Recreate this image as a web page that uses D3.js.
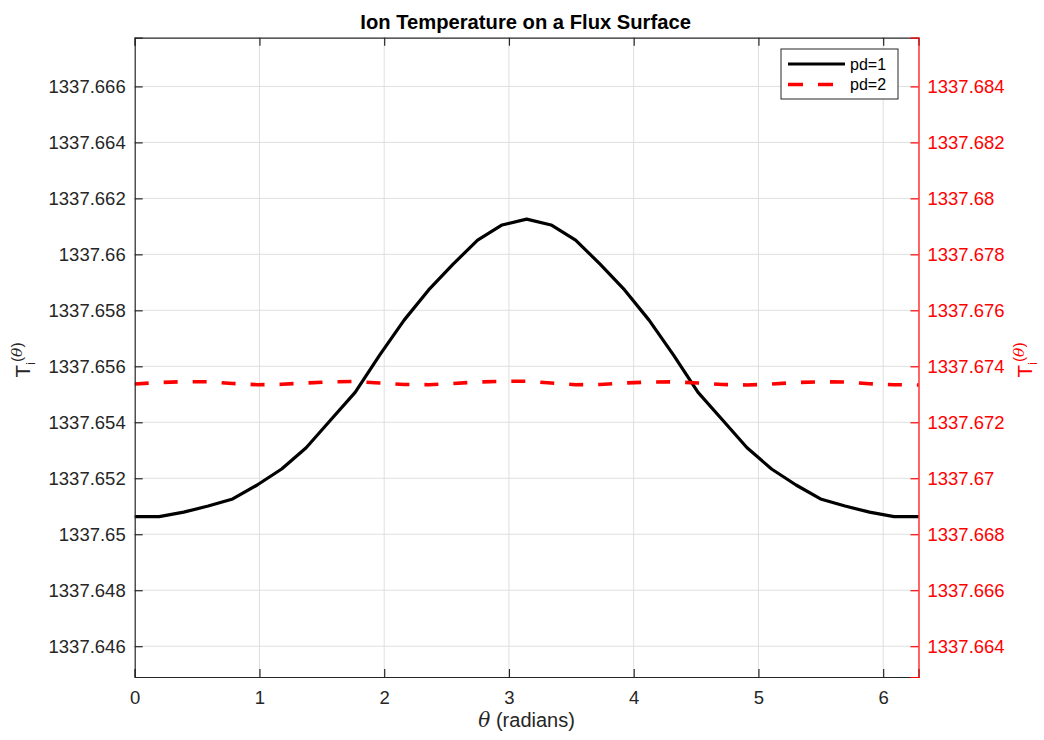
<!DOCTYPE html>
<html>
<head>
<meta charset="utf-8">
<script src="https://cdn.jsdelivr.net/npm/d3@7"></script>
<style>
  html, body { margin: 0; padding: 0; background: #fff; }
  svg { display: block; font-family: "Liberation Sans", Arial, Helvetica, sans-serif; }
</style>
</head>
<body>
<svg id="chart" width="1044" height="740"></svg>
<script>
// Poloidal angle samples: 33 points spanning [0, 2π]
const nPts = 33;
const theta = d3.range(nPts).map(k => k * 2 * Math.PI / (nPts - 1));

// Ion temperature, pd=1 (left axis)
const tiPd1 = [
  1337.65063, 1337.65063, 1337.65079, 1337.65101, 1337.65126, 1337.65176,
  1337.65233, 1337.65309, 1337.65408, 1337.65507, 1337.65640, 1337.65765,
  1337.65873, 1337.65965, 1337.66051, 1337.66105, 1337.66126,
  1337.66105, 1337.66051, 1337.65965, 1337.65873, 1337.65765, 1337.65640,
  1337.65507, 1337.65408, 1337.65309, 1337.65233, 1337.65176, 1337.65126,
  1337.65101, 1337.65079, 1337.65063, 1337.65063
];

// Ion temperature, pd=2 (right axis)
const tiPd2 = [
  1337.673368, 1337.673421, 1337.673450, 1337.673446, 1337.673386, 1337.673343,
  1337.673357, 1337.673404, 1337.673446, 1337.673457, 1337.673404, 1337.673350,
  1337.673343, 1337.673386, 1337.673439, 1337.673464, 1337.673468,
  1337.673404, 1337.673343, 1337.673350, 1337.673404, 1337.673439, 1337.673446,
  1337.673404, 1337.673350, 1337.673332, 1337.673368, 1337.673421, 1337.673446,
  1337.673439, 1337.673379, 1337.673343, 1337.673332
];

const xTicks = [0, 1, 2, 3, 4, 5, 6];
const yLeftTicks = [1337.646, 1337.648, 1337.65, 1337.652, 1337.654, 1337.656,
                    1337.658, 1337.66, 1337.662, 1337.664, 1337.666];
const yRightTicks = [1337.664, 1337.666, 1337.668, 1337.67, 1337.672, 1337.674,
                     1337.676, 1337.678, 1337.68, 1337.682, 1337.684];
const yLeftDomain = [1337.64490, 1337.66774];
const yRightDomain = [1337.66290, 1337.68574];

const seriesNames = ["pd=1", "pd=2"];

const plot = { left: 134.7, right: 918.5, top: 37.7, bottom: 677 };
const axisColor = "#262626";
const red = "#ff0000";
const fontSize = 18.5;

const svg = d3.select("#chart");

const x = d3.scaleLinear().domain([0, 2 * Math.PI]).range([plot.left, plot.right]);
const yL = d3.scaleLinear().domain(yLeftDomain).range([plot.bottom, plot.top]);
const yR = d3.scaleLinear().domain(yRightDomain).range([plot.bottom, plot.top]);

// Grid
const grid = svg.append("g").attr("class", "grid");
grid.selectAll("line.gx").data(xTicks.filter(t => t > 0)).join("line")
  .attr("x1", d => x(d)).attr("x2", d => x(d))
  .attr("y1", plot.top).attr("y2", plot.bottom)
  .attr("stroke", "#dfdfdf").attr("stroke-width", 1);
grid.selectAll("line.gy").data(yLeftTicks).join("line")
  .attr("x1", plot.left).attr("x2", plot.right)
  .attr("y1", d => yL(d)).attr("y2", d => yL(d))
  .attr("stroke", "#dfdfdf").attr("stroke-width", 1);

// Data lines
const line1 = d3.line().x((d, i) => x(theta[i])).y(d => yL(d));
const line2 = d3.line().x((d, i) => x(theta[i])).y(d => yR(d));

svg.append("path").datum(tiPd1)
  .attr("d", line1).attr("fill", "none")
  .attr("stroke", "#000").attr("stroke-width", 3.2)
  .attr("stroke-linejoin", "round");

svg.append("path").datum(tiPd2)
  .attr("d", line2).attr("fill", "none")
  .attr("stroke", red).attr("stroke-width", 3.6)
  .attr("stroke-dasharray", "14,15");

// Axes
const tickLen = 8;

const bottomAxis = d3.axisBottom(x).tickValues(xTicks).tickSize(-tickLen).tickPadding(14)
  .tickFormat(d3.format("d"));
const gB = svg.append("g").attr("transform", `translate(0,${plot.bottom})`).call(bottomAxis);

const topAxis = d3.axisTop(x).tickValues(xTicks).tickSize(-tickLen).tickFormat("");
const gT = svg.append("g").attr("transform", `translate(0,${plot.top})`).call(topAxis);

const fmt = d => d3.format(".3f")(d).replace(/0+$/, "").replace(/\.$/, "");
const leftAxis = d3.axisLeft(yL).tickValues(yLeftTicks).tickSize(-tickLen).tickPadding(9)
  .tickFormat(fmt);
const gL = svg.append("g").attr("transform", `translate(${plot.left},0)`).call(leftAxis);

const rightAxis = d3.axisRight(yR).tickValues(yRightTicks).tickSize(-tickLen).tickPadding(9)
  .tickFormat(fmt);
const gR = svg.append("g").attr("transform", `translate(${plot.right},0)`).call(rightAxis);

[gB, gT, gL].forEach(g => {
  g.select(".domain").attr("stroke", axisColor).attr("stroke-width", 1.2);
  g.selectAll(".tick line").attr("stroke", axisColor).attr("stroke-width", 1.2);
  g.selectAll(".tick text").attr("fill", axisColor)
    .attr("font-size", fontSize).attr("font-family", "Liberation Sans, Arial, sans-serif");
});
gR.select(".domain").attr("stroke", red).attr("stroke-width", 1.2);
gR.selectAll(".tick line").attr("stroke", red).attr("stroke-width", 1.2);
gR.selectAll(".tick text").attr("fill", red)
  .attr("font-size", fontSize).attr("font-family", "Liberation Sans, Arial, sans-serif");

// Title
svg.append("text")
  .attr("x", (plot.left + plot.right) / 2 - 1).attr("y", 28.5)
  .attr("text-anchor", "middle")
  .attr("font-size", 20.2).attr("font-weight", "bold").attr("fill", "#000")
  .text("Ion Temperature on a Flux Surface");

// X axis label
const xl = svg.append("text")
  .attr("x", (plot.left + plot.right) / 2).attr("y", 727)
  .attr("text-anchor", "middle")
  .attr("font-size", 20).attr("fill", axisColor);
xl.append("tspan").attr("font-style", "italic").attr("font-family", "DejaVu Serif, serif").text("θ");
xl.append("tspan").text(" (radians)");

// Y axis labels: T_i(θ)
function yLabel(cx, cy, color) {
  const t = svg.append("text")
    .attr("transform", `translate(${cx},${cy}) rotate(-90)`)
    .attr("text-anchor", "middle")
    .attr("font-size", 20.5).attr("fill", color);
  t.append("tspan").text("T");
  t.append("tspan").attr("font-size", 13.5).attr("dy", 5).text("i");
  t.append("tspan").attr("font-size", 15.5).attr("dy", -13).text("(");
  t.append("tspan").attr("font-size", 15.5).attr("font-style", "italic")
    .attr("font-family", "DejaVu Serif, serif").text("θ");
  t.append("tspan").attr("font-size", 15.5).text(")");
}
yLabel(30, 360, axisColor);
yLabel(1032, 360, red);

// Legend
const lg = svg.append("g");
const lgBox = { x: 781, y: 49, w: 117, h: 50 };
lg.append("rect")
  .attr("x", lgBox.x).attr("y", lgBox.y).attr("width", lgBox.w).attr("height", lgBox.h)
  .attr("fill", "#fff").attr("stroke", axisColor).attr("stroke-width", 1);
const lgItems = [
  { name: seriesNames[0], color: "#000", dash: null, w: 3.2 },
  { name: seriesNames[1], color: red, dash: "15,15", w: 3.6 }
];
lgItems.forEach((it, i) => {
  const cy = lgBox.y + 15 + i * 20.5;
  lg.append("line")
    .attr("x1", lgBox.x + 7).attr("x2", lgBox.x + 64)
    .attr("y1", cy).attr("y2", cy)
    .attr("stroke", it.color).attr("stroke-width", it.w)
    .attr("stroke-dasharray", it.dash);
  lg.append("text")
    .attr("x", lgBox.x + 69).attr("y", cy + 5.5)
    .attr("font-size", 16).attr("fill", "#000")
    .text(it.name);
});
</script>
</body>
</html>
